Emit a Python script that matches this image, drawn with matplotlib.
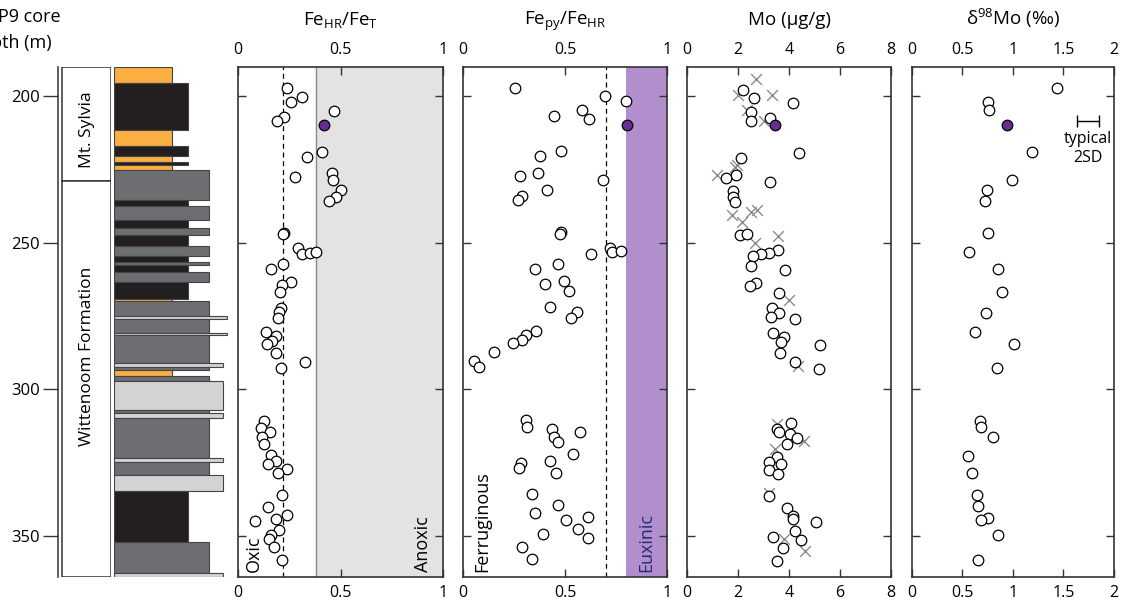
import matplotlib.pyplot as plt
import numpy as np

plt.rcParams['font.family'] = ['Open Sans', 'DejaVu Sans']
plt.rcParams['mathtext.fontset'] = 'custom'
plt.rcParams['mathtext.rm'] = 'Open Sans'
plt.rcParams['mathtext.it'] = 'Open Sans:italic'
plt.rcParams['mathtext.bf'] = 'Open Sans:bold'

# ---- data (depth in m) ----
fe_depth = [197.4, 200.3, 202.0, 205.1, 207.1, 208.4, 219.1, 220.9, 227.7, 226.4, 228.8, 232.1,
            234.4, 235.9, 246.6, 247.2, 252.0, 254.0, 253.5, 253.2, 257.4, 259.1, 263.5, 264.4,
            266.9, 272.2, 273.7, 275.6, 280.4, 281.9, 283.6, 284.5, 287.6, 290.6, 292.9,
            310.9, 313.1, 314.8, 316.5, 318.6, 322.6, 324.5, 325.4, 327.3, 328.7, 336.2, 340.1,
            342.9, 344.2, 345.0, 348.0, 349.7, 351.2, 354.0, 358.2]
fe_hrt = [0.239, 0.312, 0.257, 0.465, 0.223, 0.190, 0.407, 0.335, 0.275, 0.455, 0.460, 0.503,
          0.475, 0.441, 0.223, 0.220, 0.290, 0.312, 0.351, 0.378, 0.217, 0.161, 0.259, 0.212,
          0.203, 0.208, 0.199, 0.192, 0.137, 0.182, 0.166, 0.138, 0.182, 0.325, 0.208,
          0.125, 0.111, 0.155, 0.117, 0.125, 0.158, 0.182, 0.143, 0.239, 0.195, 0.215, 0.146,
          0.239, 0.182, 0.081, 0.198, 0.158, 0.151, 0.176, 0.211]

py_depth = [197.2, 200.1, 201.8, 204.8, 206.9, 208.0, 218.9, 220.6, 226.4, 227.4, 228.6, 231.9,
            234.1, 235.6, 246.4, 247.0, 251.8, 253.2, 253.0, 253.8, 257.2, 258.9, 263.1, 264.3,
            266.5, 272.1, 273.7, 275.6, 280.2, 281.5, 283.2, 284.4, 287.2, 290.4, 292.4,
            310.6, 312.8, 313.5, 314.8, 316.2, 318.0, 322.3, 324.4, 325.3, 326.8, 328.5, 335.9,
            339.6, 342.4, 344.6, 343.8, 347.8, 349.6, 350.7, 353.7, 357.8]
fe_py = [0.254, 0.697, 0.800, 0.582, 0.448, 0.620, 0.481, 0.376, 0.367, 0.279, 0.689, 0.412,
         0.290, 0.269, 0.481, 0.476, 0.722, 0.730, 0.776, 0.628, 0.466, 0.353, 0.495, 0.403,
         0.520, 0.425, 0.558, 0.528, 0.358, 0.307, 0.287, 0.246, 0.152, 0.053, 0.079,
         0.307, 0.315, 0.435, 0.574, 0.446, 0.467, 0.541, 0.425, 0.282, 0.274, 0.457, 0.339,
         0.464, 0.353, 0.504, 0.612, 0.563, 0.392, 0.612, 0.290, 0.336]

mo_depth = [197.8, 200.6, 202.3, 205.4, 208.5, 207.4, 219.5, 221.1, 227.0, 227.9, 229.3, 232.4,
            234.5, 236.2, 247.4, 247.1, 252.4, 253.6, 254.0, 254.5, 257.9, 259.4, 263.7, 264.7,
            267.3, 272.4, 274.2, 275.4, 276.2, 281.0, 282.1, 283.9, 284.9, 287.8, 290.7, 293.1,
            311.4, 313.5, 314.6, 315.4, 316.7, 318.8, 323.0, 324.8, 325.6, 327.6, 329.0, 336.4,
            340.4, 343.2, 344.4, 345.2, 348.5, 350.4, 351.4, 354.3, 358.7]
mo = [2.20, 2.62, 4.16, 2.50, 2.49, 3.25, 4.39, 2.11, 1.90, 1.52, 3.25, 1.78,
      1.81, 1.88, 2.07, 2.36, 3.57, 3.22, 2.91, 2.59, 2.50, 3.82, 2.70, 2.47,
      3.61, 3.33, 3.61, 3.30, 4.23, 3.35, 3.81, 3.67, 5.21, 3.64, 4.23, 5.16,
      4.06, 3.53, 3.61, 4.03, 4.30, 3.93, 3.53, 3.22, 3.68, 3.22, 3.56, 3.22,
      3.90, 4.16, 4.16, 5.04, 4.23, 3.35, 4.45, 3.75, 3.51]

mo2_depth = [194.1, 199.8, 199.5, 204.8, 208.6, 224.1, 223.7, 226.8, 240.6, 239.6, 238.9, 242.9,
             250.1, 247.8, 269.7, 292.1, 312.0, 317.7, 320.5, 335.3, 351.2, 355.4]
mo2 = [2.70, 2.00, 3.31, 2.33, 3.02, 1.87, 1.96, 1.15, 1.74, 2.50, 2.72, 2.14,
       2.66, 3.57, 3.99, 4.36, 3.51, 4.58, 3.44, 3.21, 3.80, 4.62]

d98_depth = [197.2, 201.9, 204.8, 219.0, 228.8, 232.1, 235.7, 246.6, 253.2, 259.1, 266.8, 273.9,
             280.4, 284.5, 292.7, 310.9, 312.9, 316.3, 322.8, 328.7, 336.2, 339.8, 344.0, 344.8,
             349.8, 358.2]
d98 = [1.433, 0.751, 0.764, 1.186, 0.989, 0.741, 0.721, 0.751, 0.570, 0.850, 0.893, 0.731,
       0.626, 1.014, 0.840, 0.675, 0.682, 0.801, 0.554, 0.596, 0.643, 0.659, 0.751, 0.682,
       0.856, 0.655]

# highlighted sample
hl_depth = 209.9
hl_fe_hrt, hl_fe_py, hl_mo, hl_d98 = 0.418, 0.803, 3.44, 0.942

# lithology log: top, base, type
lith = [(190.0, 195.6, 'o'), (195.6, 211.5, 'k'), (211.5, 217.1, 'o'), (217.1, 220.4, 'k'),
        (220.4, 222.6, 'o'), (222.6, 223.6, 'k'), (223.6, 225.2, 'o'), (225.2, 235.6, 'g'),
        (235.6, 237.6, 'k'), (237.6, 242.2, 'g'), (242.2, 245.2, 'k'), (245.2, 247.4, 'g'),
        (247.4, 251.3, 'k'), (251.3, 254.6, 'g'), (254.6, 256.7, 'k'), (256.7, 257.7, 'g'),
        (257.7, 260.2, 'k'), (260.2, 263.4, 'g'), (263.4, 269.2, 'k'), (269.2, 270.0, 'o'),
        (270.0, 274.9, 'g'), (274.9, 276.0, 't'), (276.0, 280.7, 'g'), (280.7, 281.6, 't'),
        (281.6, 291.1, 'g'), (291.1, 292.4, 'l'), (292.4, 293.5, 'g'), (293.5, 295.4, 'o'),
        (295.4, 297.4, 'g'), (297.4, 307.0, 'l'), (307.0, 308.1, 'g'), (308.1, 309.7, 'l'),
        (309.7, 323.4, 'g'), (323.4, 324.7, 'l'), (324.7, 329.2, 'g'), (329.2, 334.9, 'l'),
        (334.9, 352.1, 'k'), (352.1, 362.9, 'g'), (362.9, 364.0, 'l')]
lith_width = {'o': 58, 'k': 74, 'g': 95, 'l': 109, 't': 113}
lith_color = {'o': '#FBAE42', 'k': '#231F20', 'g': '#6D6E71', 'l': '#D1D3D4', 't': '#D1D3D4'}

formations = ['Mt. Sylvia', 'Wittenoom Formation']
form_top = [190, 229]
form_base = [229, 364]
form_label_y = [211.4, 288.8]

YLIM = (364, 190)
W, H = 1122, 600
fig = plt.figure(figsize=(11.22, 6), dpi=100)


def px_axes(x0, x1, y0=66.7, y1=576.7):
    return fig.add_axes([x0 / W, 1 - y1 / H, (x1 - x0) / W, (y1 - y0) / H])


edge = '#333333'

# depth axis + formations
axf = px_axes(58, 111)
axf.set_xlim(0, 1)
axf.set_ylim(*YLIM)
for s in ['top', 'right', 'bottom']:
    axf.spines[s].set_visible(False)
axf.spines['left'].set_color(edge)
axf.spines['left'].set_linewidth(1.1)
axf.set_xticks([])
axf.set_yticks([200, 250, 300, 350])
axf.tick_params(axis='y', direction='out', length=11, width=1, pad=2, labelsize=12, color=edge)
axf.barh([(t + b) / 2 for t, b in zip(form_top, form_base)],
         0.925, height=[b - t for t, b in zip(form_top, form_base)], left=0.075,
         color='white', edgecolor=edge, linewidth=1.1)
for name, y in zip(formations, form_label_y):
    axf.text(0.54, y, name, rotation=90, ha='center', va='center', fontsize=12.5)

# core label (cut at the left edge, as in the source figure)
fig.text(61 / W, 1 - 17 / H, 'ABDP9 core', ha='right', va='center', fontsize=13)
fig.text(52 / W, 1 - 43 / H, 'depth (m)', ha='right', va='center', fontsize=13)

# lithology column
axl = px_axes(114, 228)
axl.set_xlim(0, 114)
axl.set_ylim(*YLIM)
axl.axis('off')
axl.barh([(t + b) / 2 for t, b, c in lith], [lith_width[c] for t, b, c in lith],
         height=[b - t for t, b, c in lith], left=0,
         color=[lith_color[c] for t, b, c in lith], edgecolor='#444444', linewidth=0.8)


def setup(ax, xmax, ticks, labels, title, cx):
    ax.set_xlim(0, xmax)
    ax.set_ylim(*YLIM)
    ax.set_xticks(ticks)
    ax.set_xticklabels(labels)
    ax.set_yticks([200, 250, 300, 350])
    ax.set_yticklabels([])
    ax.tick_params(axis='x', top=True, labeltop=True, bottom=True, labelbottom=True,
                   direction='in', length=6, width=1, pad=6, labelsize=11.5, color=edge)
    ax.tick_params(axis='y', left=True, right=True, direction='in', length=6, width=1, color=edge)
    for s in ax.spines.values():
        s.set_linewidth(1.2)
        s.set_color(edge)
    fig.text(cx / W, 1 - 25 / H, title, ha='center', va='baseline', fontsize=13.5)


def circles(ax, x, y):
    ax.scatter(x, y, s=58, facecolor='white', edgecolor='black', linewidth=0.9, zorder=4)


# panel 1: FeHR/FeT
ax1 = px_axes(238.3, 443.3)
setup(ax1, 1, [0, 0.5, 1], ['0', '0.5', '1'], r'Fe$_{\mathrm{HR}}$/Fe$_{\mathrm{T}}$', 340.8)
ax1.axvspan(0.38, 1, color='#E3E3E4', zorder=0)
ax1.axvline(0.38, color='#8C8C8C', lw=1, zorder=1)
ax1.axvline(0.22, color='black', lw=0.9, ls=(0, (4, 3)), zorder=1)
circles(ax1, fe_hrt, fe_depth)
ax1.scatter([hl_fe_hrt], [hl_depth], s=58, facecolor='#6B2C91', edgecolor='black', linewidth=0.9, zorder=5)
ax1.text(0.033, 0.009, 'Oxic', rotation=90, ha='left', va='bottom', fontsize=13, transform=ax1.transAxes)
ax1.text(0.945, 0.009, 'Anoxic', rotation=90, ha='right', va='bottom', fontsize=13, transform=ax1.transAxes)

# panel 2: Fepy/FeHR
ax2 = px_axes(463.3, 666.7)
setup(ax2, 1, [0, 0.5, 1], ['0', '0.5', '1'], r'Fe$_{\mathrm{py}}$/Fe$_{\mathrm{HR}}$', 565)
ax2.axvspan(0.8, 1, color='#B18FCC', zorder=0, lw=0)
ax2.axvline(0.7, color='black', lw=0.9, ls=(0, (4, 3)), zorder=1)
circles(ax2, fe_py, py_depth)
ax2.scatter([hl_fe_py], [hl_depth], s=58, facecolor='#6B2C91', edgecolor='black', linewidth=0.9, zorder=5)
ax2.text(0.048, 0.009, 'Ferruginous', rotation=90, ha='left', va='bottom', fontsize=13, transform=ax2.transAxes)
ax2.text(0.855, 0.009, 'Euxinic', rotation=90, ha='left', va='bottom', fontsize=13,
         color='#262A78', transform=ax2.transAxes)

# panel 3: Mo
ax3 = px_axes(687.3, 891)
setup(ax3, 8, [0, 2, 4, 6, 8], ['0', '2', '4', '6', '8'], 'Mo (µg/g)', 789)
ax3.scatter(mo2, mo2_depth, s=60, marker='x', color='#8C8C8C', linewidth=1, zorder=3)
circles(ax3, mo, mo_depth)
ax3.scatter([hl_mo], [hl_depth], s=58, facecolor='#6B2C91', edgecolor='black', linewidth=0.9, zorder=5)

# panel 4: d98Mo
ax4 = px_axes(911.7, 1114)
setup(ax4, 2, [0, 0.5, 1, 1.5, 2], ['0', '0.5', '1', '1.5', '2'], r'δ$^{98}$Mo (‰)', 1013)
circles(ax4, d98, d98_depth)
ax4.scatter([hl_d98], [hl_depth], s=58, facecolor='#6B2C91', edgecolor='black', linewidth=0.9, zorder=5)
ax4.errorbar([1.74], [208.4], xerr=[0.11], fmt='none', ecolor='black', elinewidth=1, capsize=4, capthick=1)
ax4.text(1.74, 214.8, 'typical', ha='center', va='center', fontsize=11.5)
ax4.text(1.74, 221.3, '2SD', ha='center', va='center', fontsize=11.5)

fig.savefig('out.png', dpi=100)
